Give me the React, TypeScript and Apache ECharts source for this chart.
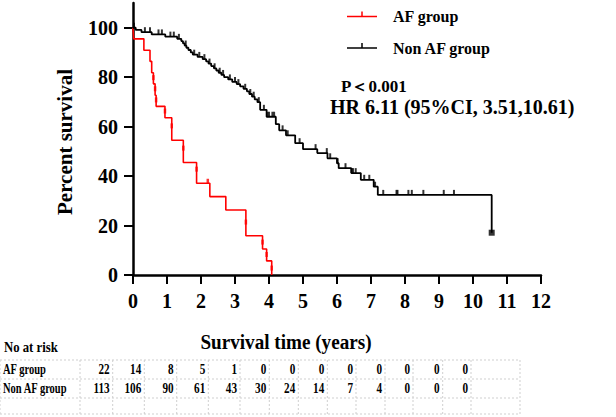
import React, { useEffect, useRef } from "react";
import * as echarts from "echarts";

// ---------- data ----------
const X_TICKS = [0, 1, 2, 3, 4, 5, 6, 7, 8, 9, 10, 11, 12];
const Y_TICKS = [0, 20, 40, 60, 80, 100];

// AF group Kaplan-Meier steps (time in years, percent survival)
const AF_T = [0, 0.02, 0.32, 0.5, 0.55, 0.6, 0.65, 0.68, 0.94, 1.14, 1.48, 1.87, 2.26, 2.73, 3.32, 3.81, 3.93, 4.08];
const AF_S = [100, 95.5, 90.9, 86.4, 81.8, 77.3, 72.7, 68.2, 63.6, 54.5, 45.5, 37.1, 31.7, 26.3, 15.9, 10.5, 5.7, 0];
// AF censor marks [time, percent]
const AF_CENS_T = [0.6, 0.65, 0.68, 0.94, 1.14, 1.48, 1.87, 2.2, 3.32, 3.81, 3.93, 4.08];
const AF_CENS_S = [79, 74.5, 70, 65.5, 59.5, 50.5, 42, 37.1, 20.6, 12.5, 7.5, 2];

// Non AF group Kaplan-Meier steps
const NAF_T = [0, 0.08, 0.25, 0.55, 0.95, 1.3, 1.42, 1.47, 1.52, 1.57, 1.63, 1.7, 1.76, 1.9, 2.05, 2.15, 2.22, 2.3, 2.38, 2.45, 2.52, 2.6, 2.68, 2.8, 2.92, 3.05, 3.15, 3.25, 3.35, 3.42, 3.5, 3.58, 3.66, 3.74, 3.93, 4.2, 4.3, 4.5, 4.77, 5.0, 5.42, 5.72, 6.0, 6.05, 6.42, 6.7, 7.08, 7.2, 10.55];
const NAF_S = [100, 99.1, 98.2, 97.3, 96.4, 95.5, 94.6, 93.7, 92.8, 91.9, 91.0, 90.0, 89.1, 88.2, 87.3, 86.4, 85.5, 84.5, 83.6, 82.7, 81.8, 80.9, 80.0, 79.1, 78.1, 77.2, 76.3, 75.3, 74.3, 73.2, 72.1, 71.0, 69.9, 66.8, 64.0, 61.0, 58.5, 56.5, 53.3, 50.9, 49.3, 47.2, 45.2, 43.2, 41.2, 38.5, 35.7, 32.4, 17.1];
// Non AF censor times
const NAF_CENS_T = [0.03, 0.35, 0.5, 0.75, 0.85, 1.1, 1.2, 1.35, 1.55, 1.8, 1.95, 2.1, 2.25, 2.4, 2.55, 2.65, 2.85, 3.0, 3.1, 3.3, 3.45, 3.55, 3.7, 3.85, 3.95, 4.0, 4.1, 4.15, 4.4, 4.55, 4.9, 5.37, 5.7, 5.8, 6.02, 6.25, 6.43, 6.47, 6.55, 6.8, 6.95, 7.12, 7.36, 7.75, 7.78, 8.1, 8.2, 8.54, 9.14, 9.44];

// Number at risk table
const RISK_ROWS = ["AF group", "Non AF group"];
const AF_RISK = [22, 14, 8, 5, 1, 0, 0, 0, 0, 0, 0, 0, 0];
const NAF_RISK = [113, 106, 90, 61, 43, 30, 24, 14, 7, 4, 0, 0, 0];

const LEGEND_NAMES = ["AF group", "Non AF group"];
const P_TEXT = "P\uFF1C0.001";
const HR_TEXT = "HR 6.11 (95%CI, 3.51,10.61)";
const X_TITLE = "Survival time (years)";
const Y_TITLE = "Percent survival";
const TABLE_TITLE = "No at risk";

// ---------- layout ----------
const FONT = '"Liberation Serif", "Times New Roman", serif';
const COL_EDGES = [0, 80, 112.7, 144.3, 176.7, 208.3, 240, 269.3, 298.3, 327.3, 356, 385, 413, 442.7, 471, 520];
const ROW_EDGES = [360, 379, 398, 414];

function survAt(T: number[], S: number[], t: number) {
  let v = S[0];
  for (let i = 0; i < T.length; i++) if (T[i] <= t) v = S[i];
  return v;
}

export default function App() {
  const ref = useRef<HTMLDivElement>(null);
  useEffect(() => {
    document.body.style.margin = "0";
    const chart = echarts.init(ref.current!, undefined, { renderer: "svg" });

    const afLine = AF_T.map((t, i) => [t, AF_S[i]]);
    const nafLine = NAF_T.map((t, i) => [t, NAF_S[i]]);
    const afCens = AF_CENS_T.map((t, i) => [t, AF_CENS_S[i]]);
    const nafCens = NAF_CENS_T.map((t) => [t, survAt(NAF_T, NAF_S, t)]);
    const nafEnd = [[NAF_T[NAF_T.length - 1], NAF_S[NAF_S.length - 1]]];

    const graphics: any[] = [];
    // legend
    const legendColors = ["#ff0000", "#000000"];
    const legendY = [16.5, 48];
    LEGEND_NAMES.forEach((n, i) => {
      graphics.push({ type: "line", shape: { x1: 347, y1: legendY[i], x2: 377, y2: legendY[i] }, style: { stroke: legendColors[i], lineWidth: 1.5 } });
      graphics.push({ type: "line", shape: { x1: 362, y1: legendY[i] - 5, x2: 362, y2: legendY[i] }, style: { stroke: legendColors[i], lineWidth: 1.5 } });
      graphics.push({ type: "text", x: 393, y: legendY[i], style: { text: n, font: `bold 16px ${FONT}`, fill: "#000", verticalAlign: "middle", align: "left" } });
    });
    graphics.push({ type: "text", x: 341, y: 86, style: { text: P_TEXT, font: `bold 17px ${FONT}`, fill: "#000", verticalAlign: "middle" } });
    graphics.push({ type: "text", x: 330, y: 107, style: { text: HR_TEXT, font: `bold 20px ${FONT}`, fill: "#000", verticalAlign: "middle" } });
    // axis titles
    graphics.push({ type: "text", x: 65, y: 142, rotation: Math.PI / 2, style: { text: Y_TITLE, font: `bold 21px ${FONT}`, fill: "#000", align: "center", verticalAlign: "middle" } });
    graphics.push({ type: "text", x: 286, y: 342, scaleX: 0.87, style: { text: X_TITLE, font: `bold 22px ${FONT}`, fill: "#000", align: "center", verticalAlign: "middle" } });
    graphics.push({ type: "text", x: 4, y: 347, scaleX: 0.85, style: { text: TABLE_TITLE, font: `bold 15px ${FONT}`, fill: "#000", verticalAlign: "middle" } });
    // table grid
    const gridStroke = { stroke: "#cfcfcf", lineWidth: 1, lineDash: [2, 2] };
    ROW_EDGES.forEach((y) => {
      graphics.push({ type: "line", shape: { x1: 0, y1: y, x2: COL_EDGES[COL_EDGES.length - 1], y2: y }, style: gridStroke });
    });
    COL_EDGES.forEach((x) => {
      graphics.push({ type: "line", shape: { x1: x, y1: ROW_EDGES[0], x2: x, y2: ROW_EDGES[ROW_EDGES.length - 1] }, style: gridStroke });
    });
    const riskData = [AF_RISK, NAF_RISK];
    RISK_ROWS.forEach((name, r) => {
      const cy = (ROW_EDGES[r] + ROW_EDGES[r + 1]) / 2;
      graphics.push({ type: "text", x: 3, y: cy, scaleX: 0.75, style: { text: name, font: `bold 14px ${FONT}`, fill: "#000", verticalAlign: "middle" } });
      riskData[r].forEach((v, c) => {
        graphics.push({ type: "text", x: COL_EDGES[c + 2] - 3, y: cy, scaleX: 0.8, style: { text: String(v), font: `bold 14px ${FONT}`, fill: "#000", align: "right", verticalAlign: "middle" } });
      });
    });

    chart.setOption({
      animation: false,
      grid: { left: 133, right: 75, top: 3, bottom: 142, containLabel: false },
      xAxis: {
        type: "value",
        min: 0,
        max: 12,
        interval: 1,
        splitLine: { show: false },
        axisLine: { show: true, onZero: false, lineStyle: { color: "#000", width: 2.5 } },
        axisTick: { show: true, length: 9, lineStyle: { color: "#000", width: 2 } },
        axisLabel: { margin: 16, color: "#000", fontFamily: FONT, fontWeight: "bold", fontSize: 20, formatter: (v: number) => (X_TICKS.includes(v) ? String(v) : "") },
      },
      yAxis: {
        type: "value",
        min: 0,
        max: 110,
        splitLine: { show: false },
        axisLine: { show: true, onZero: false, lineStyle: { color: "#000", width: 2.5 } },
        axisTick: { show: true, length: 9, customValues: Y_TICKS, lineStyle: { color: "#000", width: 2 } },
        axisLabel: { margin: 15, color: "#000", fontFamily: FONT, fontWeight: "bold", fontSize: 20, customValues: Y_TICKS },
      },
      graphic: graphics,
      series: [
        { type: "line", step: "end", data: afLine, symbol: "none", lineStyle: { color: "#ff0000", width: 1.6 }, z: 3 },
        { type: "line", step: "end", data: nafLine, symbol: "none", lineStyle: { color: "#000", width: 1.8 }, z: 3 },
        { type: "scatter", data: afCens, symbol: "rect", symbolSize: [2.5, 5], symbolOffset: [0, -2], itemStyle: { color: "#ff0000" }, z: 4 },
        { type: "scatter", data: nafCens, symbol: "rect", symbolSize: [2, 5], symbolOffset: [0, -2.5], itemStyle: { color: "#000" }, z: 4 },
        { type: "scatter", data: nafEnd, symbol: "rect", symbolSize: 6, itemStyle: { color: "#000" }, z: 4 },
      ],
    });
    return () => chart.dispose();
  }, []);
  return <div ref={ref} style={{ width: 616, height: 417 }} />;
}
